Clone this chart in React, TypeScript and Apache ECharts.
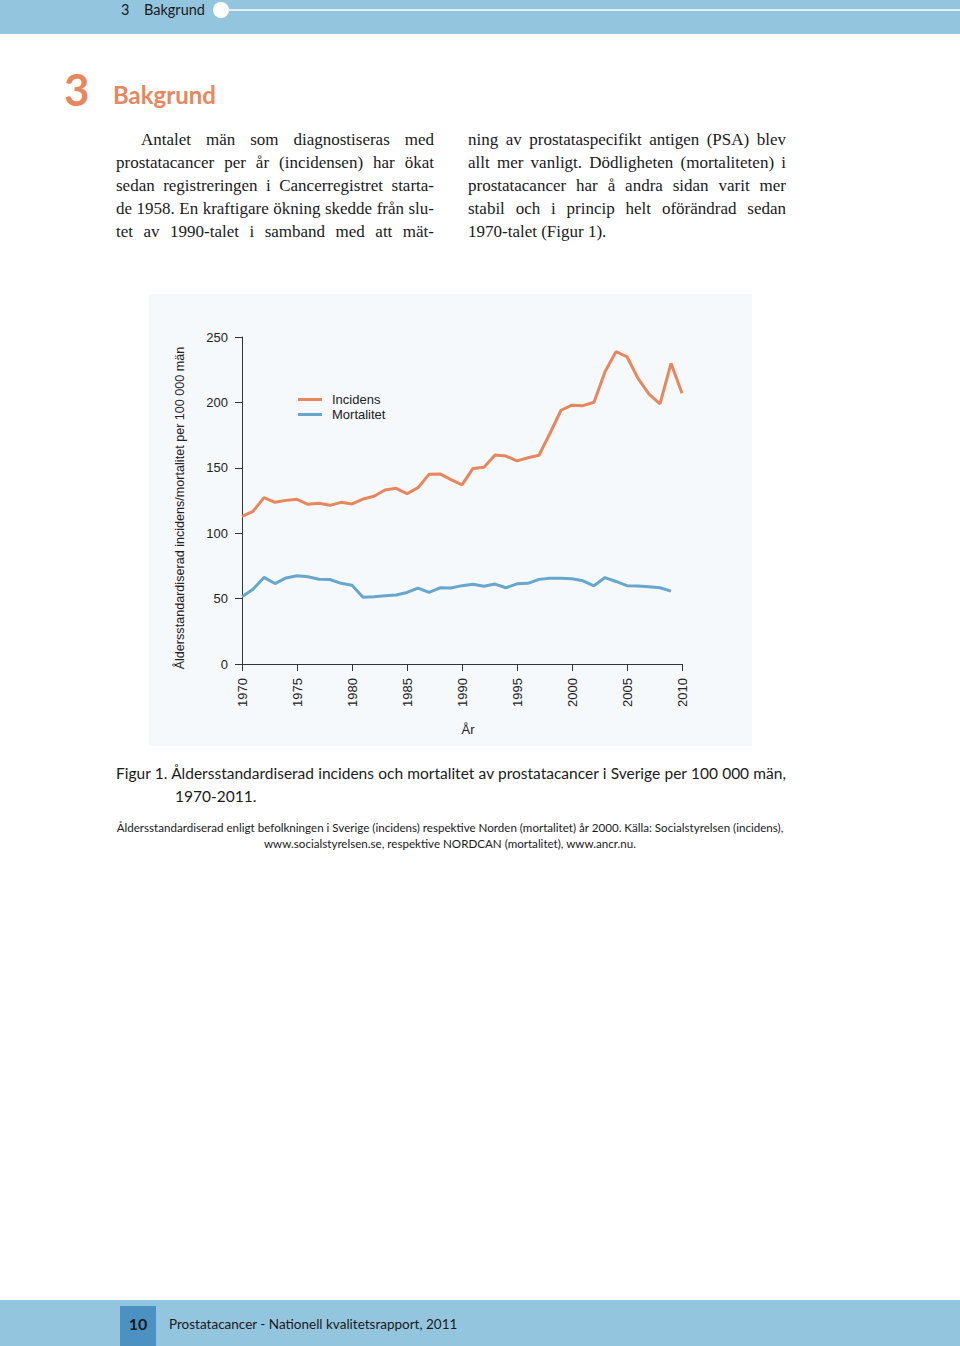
import React, { useEffect, useRef } from "react";
import * as echarts from "echarts";

const years = [
  1970, 1971, 1972, 1973, 1974, 1975, 1976, 1977, 1978, 1979,
  1980, 1981, 1982, 1983, 1984, 1985, 1986, 1987, 1988, 1989,
  1990, 1991, 1992, 1993, 1994, 1995, 1996, 1997, 1998, 1999,
  2000, 2001, 2002, 2003, 2004, 2005, 2006, 2007, 2008, 2009,
  2010,
];

const incidens = [
  112.8, 116.7, 127.2, 123.6, 125.1, 125.9, 122.1, 122.9, 121.3, 123.6,
  122.4, 126.1, 128.2, 133.0, 134.3, 130.2, 134.8, 145.0, 145.3, 141.0,
  136.9, 149.5, 150.4, 159.8, 159.0, 155.3, 157.7, 159.6, 176.4, 194.0,
  197.9, 197.5, 200.1, 223.5, 238.8, 234.9, 218.4, 206.4, 198.8, 229.9,
  207.0,
];

const mortalitet = [
  51.5, 57.1, 66.2, 61.5, 65.8, 67.4, 66.7, 64.8, 64.6, 61.7,
  60.2, 51.0, 51.5, 52.1, 52.7, 54.7, 58.0, 54.8, 58.2, 58.1,
  59.9, 61.0, 59.5, 61.1, 58.3, 61.3, 61.7, 64.7, 65.6, 65.6,
  65.1, 63.6, 59.8, 66.1, 63.1, 59.9, 59.6, 59.1, 58.3, 55.7,
];

const seriesNames = ["Incidens", "Mortalitet"];
const xTicks = { min: 1970, max: 2010, interval: 5 };
const yTicks = { min: 0, max: 250, interval: 50 };
const yAxisTitle = "Åldersstandardiserad incidens/mortalitet per 100 000 män";
const xAxisTitle = "År";

const ORANGE = "#e8875d";
const BLUE = "#67a7cd";
const BAND = "#93c5de";

function Chart() {
  const ref = useRef<HTMLDivElement>(null);
  useEffect(() => {
    if (!ref.current) return;
    const chart = echarts.init(ref.current, null, { renderer: "svg" });
    const axisCommon = {
      axisLine: { show: true, lineStyle: { color: "#333", width: 1 } },
      axisTick: { show: true, length: 7, lineStyle: { color: "#333", width: 1 } },
      splitLine: { show: false },
      nameLocation: "middle" as const,
    };
    chart.setOption({
      animation: false,
      backgroundColor: "#f5f9fc",
      textStyle: { fontFamily: "Liberation Sans" },
      grid: { left: 93, top: 43, width: 440, height: 327 },
      legend: {
        orient: "vertical",
        left: 144,
        top: 94,
        icon: "rect",
        itemWidth: 24,
        itemHeight: 3,
        itemGap: 2,
        data: seriesNames,
        textStyle: { fontSize: 13, color: "#222", padding: [0, 0, 0, 5] },
      },
      graphic: [
        {
          type: "text",
          x: 31,
          y: 214,
          rotation: Math.PI / 2,
          style: {
            text: yAxisTitle,
            fontSize: 12.6,
            fontFamily: "Liberation Sans",
            fill: "#222",
            textAlign: "center",
            textVerticalAlign: "middle",
          },
        },
      ],
      xAxis: {
        type: "value",
        ...xTicks,
        ...axisCommon,
        name: xAxisTitle,
        nameGap: 59,
        nameTextStyle: {
          fontSize: 13,
          color: "#222",
          fontFamily: "Liberation Sans",
          padding: [0, 0, 0, 12],
        },
        axisLabel: {
          rotate: 90,
          fontSize: 13,
          color: "#222",
          margin: 14,
          formatter: (v: number) => String(v),
        },
      },
      yAxis: {
        type: "value",
        ...yTicks,
        ...axisCommon,
        axisLabel: { fontSize: 13, color: "#222", margin: 14 },
      },
      series: [
        {
          type: "line",
          name: seriesNames[0],
          data: years.map((y, i) => [y, incidens[i]]),
          showSymbol: false,
          symbol: "none",
          lineStyle: { width: 3, color: ORANGE },
          itemStyle: { color: ORANGE },
        },
        {
          type: "line",
          name: seriesNames[1],
          data: years.slice(0, mortalitet.length).map((y, i) => [y, mortalitet[i]]),
          showSymbol: false,
          symbol: "none",
          lineStyle: { width: 3, color: BLUE },
          itemStyle: { color: BLUE },
        },
      ],
    });
    return () => chart.dispose();
  }, []);
  return (
    <div
      ref={ref}
      style={{ position: "absolute", left: 149, top: 294, width: 603, height: 452 }}
    />
  );
}

const serif = "'Liberation Serif', serif";
const sans = "Lato, 'Open Sans', sans-serif";

function Line(props: {
  x: number;
  y: number;
  w: number;
  text: string;
  justify?: boolean;
  font: string;
  size: number;
  align?: "left" | "center";
}) {
  return (
    <div
      style={{
        position: "absolute",
        left: props.x,
        top: props.y - 11,
        width: props.w,
        height: 22,
        lineHeight: "22px",
        fontFamily: props.font,
        fontSize: props.size,
        color: "#1a1a1a",
        textAlign: props.justify ? "justify" : props.align || "left",
        textAlignLast: props.justify ? "justify" : props.align || "left",
        whiteSpace: "nowrap",
      }}
    >
      {props.text}
    </div>
  );
}

const leftCol = [
  "Antalet män som diagnostiseras med",
  "prostatacancer per år (incidensen) har ökat",
  "sedan registreringen i Cancerregistret starta-",
  "de 1958. En kraftigare ökning skedde från slu-",
  "tet av 1990-talet i samband med att mät-",
];
const rightCol = [
  "ning av prostataspecifikt antigen (PSA) blev",
  "allt mer vanligt. Dödligheten (mortaliteten) i",
  "prostatacancer har å andra sidan varit mer",
  "stabil och i princip helt oförändrad sedan",
  "1970-talet (Figur 1).",
];

export default function App() {
  return (
    <div
      style={{
        position: "absolute",
        left: 0,
        top: 0,
        width: 960,
        height: 1346,
        background: "#fff",
        overflow: "hidden",
      }}
    >
      {/* header band */}
      <div style={{ position: "absolute", left: 0, top: 0, width: 960, height: 34, background: BAND }} />
      <div style={{ position: "absolute", left: 229, top: 9, width: 731, height: 2, background: "rgba(255,255,255,0.75)" }} />
      <div style={{ position: "absolute", left: 213, top: 2, width: 16, height: 16, borderRadius: 8, background: "#fff" }} />
      <div style={{ position: "absolute", left: 121, top: 1, fontFamily: sans, fontSize: 14.5, lineHeight: "18px", color: "#1a1a1a" }}>3</div>
      <div style={{ position: "absolute", left: 144, top: 1, fontFamily: sans, fontSize: 14.5, lineHeight: "18px", color: "#1a1a1a" }}>Bakgrund</div>

      {/* chapter title */}
      <div style={{ position: "absolute", left: 64, top: 64, fontFamily: sans, fontWeight: 700, fontSize: 44, lineHeight: "50px", color: ORANGE }}>3</div>
      <div style={{ position: "absolute", left: 113, top: 80, fontFamily: sans, fontWeight: 700, fontSize: 24, lineHeight: "30px", color: ORANGE }}>Bakgrund</div>

      {/* body text */}
      {leftCol.map((t, i) => (
        <Line key={"l" + i} x={i === 0 ? 141 : 116} y={140 + i * 23} w={i === 0 ? 293 : 318} text={t} justify font={serif} size={17} />
      ))}
      {rightCol.map((t, i) => (
        <Line key={"r" + i} x={468} y={140 + i * 23} w={318} text={t} justify={i < 4} font={serif} size={17} />
      ))}

      <Chart />

      {/* captions */}
      <Line x={116} y={773} w={670} text="Figur 1. Åldersstandardiserad incidens och mortalitet av prostatacancer i Sverige per 100 000 män," justify font={sans} size={15.5} />
      <Line x={175} y={796} w={300} text="1970-2011." font={sans} size={15.5} />
      <Line x={100} y={828} w={700} text="Åldersstandardiserad enligt befolkningen i Sverige (incidens) respektive Norden (mortalitet) år 2000. Källa: Socialstyrelsen (incidens)," font={sans} size={11.6} align="center" />
      <Line x={100} y={844} w={700} text="www.socialstyrelsen.se, respektive NORDCAN (mortalitet), www.ancr.nu." font={sans} size={11.6} align="center" />

      {/* footer band */}
      <div style={{ position: "absolute", left: 0, top: 1300, width: 960, height: 46, background: BAND }} />
      <div style={{ position: "absolute", left: 120, top: 1306, width: 36, height: 40, background: "#4b92c3" }} />
      <div style={{ position: "absolute", left: 120, top: 1314, width: 36, textAlign: "center", fontFamily: sans, fontWeight: 700, fontSize: 16, lineHeight: "20px", color: "#1a1a1a" }}>10</div>
      <div style={{ position: "absolute", left: 169, top: 1315, fontFamily: sans, fontSize: 13.5, lineHeight: "18px", color: "#1a1a1a" }}>Prostatacancer - Nationell kvalitetsrapport, 2011</div>
    </div>
  );
}
